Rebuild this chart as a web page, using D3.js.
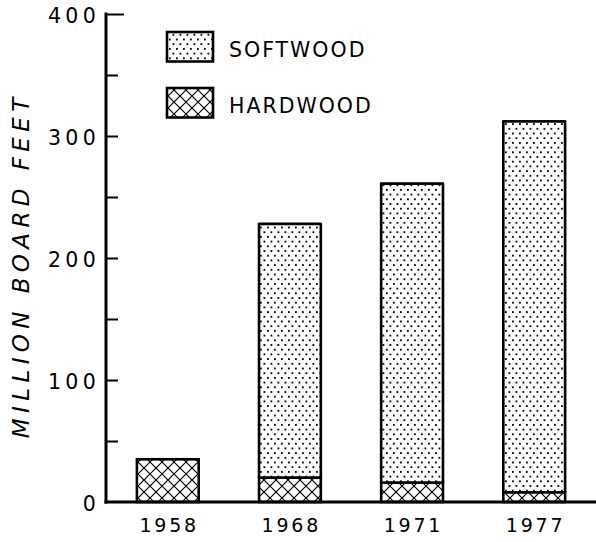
<!DOCTYPE html>
<html>
<head>
<meta charset="utf-8">
<script src="https://cdn.jsdelivr.net/npm/d3@7/dist/d3.min.js"></script>
<style>
  html, body { margin: 0; padding: 0; background: #fff; }
  svg { display: block; }
  text { font-family: "DejaVu Sans", sans-serif; fill: #000; }
</style>
</head>
<body>
<svg id="chart" width="596" height="542"></svg>
<script>
// ---- data ----
const years = ["1958", "1968", "1971", "1977"];
const hardwood = [35, 20, 16, 8];
const softwood = [0, 208, 245, 304];
const yTicks = [0, 100, 200, 300, 400];
const yMinorTicks = [50, 150, 250, 350];
const seriesNames = ["SOFTWOOD", "HARDWOOD"];
const yTitle = "MILLION BOARD FEET";

const svg = d3.select("#chart");
const axisX = 106, baseY = 502, topY = 14, rightX = 596;

const x = d3.scaleBand().domain(years).range([axisX, rightX])
  .paddingInner(0.494).paddingOuter(0.253);
const y = d3.scaleLinear().domain([0, 400]).range([baseY, topY]);

// ---- patterns ----
const defs = svg.append("defs");
const dots = defs.append("pattern").attr("id", "dots")
  .attr("patternUnits", "userSpaceOnUse").attr("width", 7).attr("height", 9.4);
dots.append("rect").attr("width", 7).attr("height", 9.4).attr("fill", "#fff");
dots.append("rect").attr("x", 1).attr("y", 1).attr("width", 1.8).attr("height", 1.8).attr("fill", "#000");
dots.append("rect").attr("x", 4.5).attr("y", 5.7).attr("width", 1.8).attr("height", 1.8).attr("fill", "#000");

const hatch = defs.append("pattern").attr("id", "hatch")
  .attr("patternUnits", "userSpaceOnUse").attr("width", 12).attr("height", 12);
hatch.append("rect").attr("width", 12).attr("height", 12).attr("fill", "#fff");
hatch.append("path").attr("d", "M0,0L12,12M12,0L0,12M-1,11L1,13M11,-1L13,1")
  .attr("stroke", "#000").attr("stroke-width", 1.2).attr("fill", "none");

// ---- bars ----
const data = years.map((yr, i) => ({ yr, h: hardwood[i], s: softwood[i] }));
const g = svg.append("g");
// hardwood segment
g.selectAll("rect.hard").data(data).join("rect").attr("class", "hard")
  .attr("x", d => x(d.yr)).attr("width", x.bandwidth())
  .attr("y", d => y(d.h)).attr("height", d => y(0) - y(d.h))
  .attr("fill", "url(#hatch)").attr("stroke", "#000").attr("stroke-width", 2.6);
// softwood segment
g.selectAll("rect.soft").data(data.filter(d => d.s > 0)).join("rect").attr("class", "soft")
  .attr("x", d => x(d.yr)).attr("width", x.bandwidth())
  .attr("y", d => y(d.h + d.s)).attr("height", d => y(d.h) - y(d.h + d.s))
  .attr("fill", "url(#dots)").attr("stroke", "#000").attr("stroke-width", 2.6)
  .attr("stroke-linejoin", "round");

// ---- y axis ----
const yAxis = svg.append("g").attr("transform", `translate(${axisX},0)`)
  .call(d3.axisLeft(y).tickValues(yTicks).tickSizeInner(-12).tickSizeOuter(0).tickPadding(6));
yAxis.select(".domain").attr("stroke-width", 3).attr("d", `M0,${topY - 1.5}V${baseY + 1.5}`);
yAxis.selectAll(".tick line").attr("stroke-width", 2)
  .attr("x2", d => d === 400 ? 18 : 12);
yAxis.selectAll(".tick text").style("font-family", "DejaVu Sans").attr("font-size", 20.5)
  .attr("letter-spacing", 4.3).attr("dy", "0.42em").attr("fill", "#000");
yAxis.selectAll(".tick").filter(d => d === 0).select("line").remove();

const yMinor = svg.append("g").attr("transform", `translate(${axisX},0)`)
  .call(d3.axisLeft(y).tickValues(yMinorTicks).tickSizeInner(-12).tickSizeOuter(0).tickFormat(""));
yMinor.select(".domain").remove();
yMinor.selectAll(".tick line").attr("stroke-width", 2);

// ---- x axis ----
const xAxis = svg.append("g").attr("transform", `translate(0,${baseY})`)
  .call(d3.axisBottom(x).tickSize(0).tickPadding(16.5));
xAxis.select(".domain").attr("stroke-width", 3).attr("d", `M${axisX - 1.5},0H${rightX}`);
xAxis.selectAll(".tick text").style("font-family", "DejaVu Sans").attr("font-size", 19)
  .attr("letter-spacing", 2.8).attr("dx", 1.4).attr("fill", "#000");

// ---- y title ----
svg.append("text")
  .attr("transform", "translate(29,268) rotate(-90)")
  .attr("text-anchor", "middle")
  .attr("font-size", 23).attr("font-style", "italic")
  .attr("letter-spacing", 5.4).attr("dx", 2.7)
  .text(yTitle);

// ---- legend ----
const legend = svg.append("g");
const legendFills = ["url(#dots)", "url(#hatch)"];
const legendY = [32, 88];
seriesNames.forEach((name, i) => {
  legend.append("rect").attr("x", 167).attr("y", legendY[i]).attr("width", 46).attr("height", 29.5)
    .attr("fill", legendFills[i]).attr("stroke", "#000").attr("stroke-width", 2.6);
  legend.append("text").attr("x", 229).attr("y", legendY[i] + 24.5)
    .attr("font-size", 20.5).attr("letter-spacing", 2)
    .text(name);
});
</script>
</body>
</html>
